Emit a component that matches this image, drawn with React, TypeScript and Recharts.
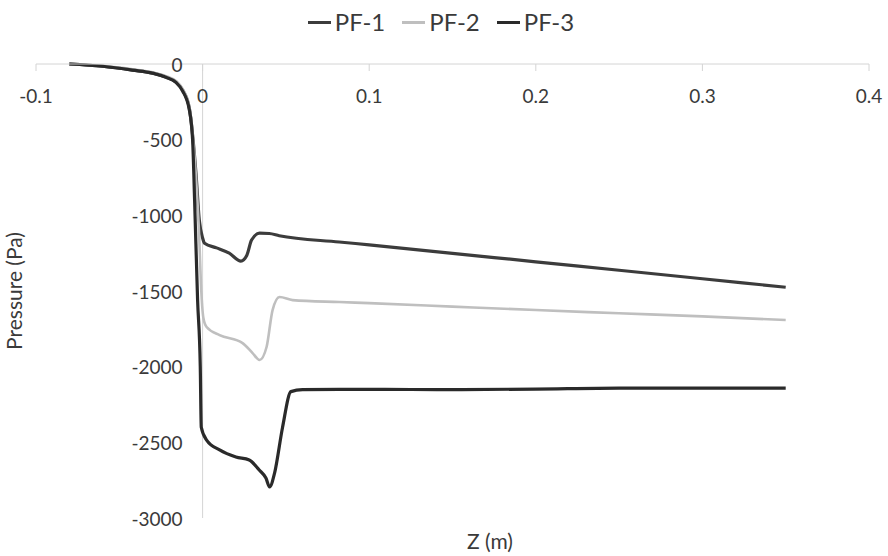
import React from 'react';
import { LineChart, Line, XAxis, YAxis, Legend, ReferenceLine } from 'recharts';

// [z (m), pressure (Pa)]
const pf1: [number, number][] = [
  [-0.08, 0], [-0.06, -15], [-0.042, -40], [-0.03, -60], [-0.022, -86], [-0.016, -119],
  [-0.012, -172], [-0.008, -290], [-0.006, -470], [-0.004, -720], [-0.002, -1030],
  [0, -1150], [0.0012, -1185], [0.0084, -1215], [0.016, -1250], [0.023, -1302],
  [0.0265, -1265], [0.0294, -1163], [0.0342, -1118], [0.04, -1120], [0.046, -1135],
  [0.082, -1176], [0.1, -1195], [0.15, -1251], [0.2, -1307], [0.25, -1363],
  [0.3, -1419], [0.35, -1475],
];

const pf2: [number, number][] = [
  [-0.08, 0], [-0.06, -12], [-0.042, -35], [-0.03, -55], [-0.022, -80], [-0.016, -112],
  [-0.012, -165], [-0.008, -280], [-0.006, -460], [-0.004, -740], [-0.002, -1150],
  [-0.001, -1450], [0.0005, -1680], [0.0024, -1738], [0.0102, -1791], [0.024, -1844],
  [0.03, -1910], [0.0342, -1956], [0.0384, -1870], [0.042, -1626], [0.0462, -1540],
  [0.054, -1560], [0.082, -1573], [0.1, -1580], [0.15, -1603], [0.2, -1626],
  [0.25, -1647], [0.3, -1668], [0.35, -1692],
];

const pf3: [number, number][] = [
  [-0.08, 0], [-0.06, -15], [-0.042, -40], [-0.03, -60], [-0.022, -88], [-0.016, -122],
  [-0.012, -178], [-0.008, -300], [-0.006, -500], [-0.0048, -900], [-0.003, -1560],
  [-0.0014, -2000], [-0.0008, -2400], [0.0024, -2485], [0.0102, -2550], [0.02, -2597],
  [0.028, -2617], [0.034, -2683], [0.038, -2736], [0.0402, -2795], [0.0432, -2703],
  [0.048, -2400], [0.053, -2165], [0.06, -2152], [0.082, -2150], [0.1, -2150],
  [0.15, -2152], [0.2, -2148], [0.25, -2142], [0.3, -2142], [0.35, -2142],
];

const xTicks = [-0.1, 0, 0.1, 0.2, 0.3, 0.4];
const yTicks = [0, -500, -1000, -1500, -2000, -2500, -3000];
const xDomain: [number, number] = [-0.1, 0.4];
const yDomain: [number, number] = [-3000, 0];

const toPoints = (rows: [number, number][]) => rows.map(([z, p]) => ({ z, p }));

const W = 888;
const H = 556;
const MARGIN = { top: 34, right: 19, bottom: 38, left: 0 };
const Y_AXIS_W = 36;
const PLOT_W = W - MARGIN.left - MARGIN.right - Y_AXIS_W;
// the value axis crosses the category axis at z = 0
const Y_AXIS_SHIFT = (PLOT_W * (0 - xDomain[0])) / (xDomain[1] - xDomain[0]);

const FONT = 'Lato, "Open Sans", sans-serif';
const TEXT = '#3a3a3a';
const AXIS = '#d4d4d4';

const XTick = ({ x, y, payload }: any) => (
  <g>
    <line x1={x} x2={x} y1={y} y2={y + 7} stroke={AXIS} />
    <text x={x} y={y + 31} textAnchor="middle" dominantBaseline="central"
      fontFamily={FONT} fontSize={19} fill={TEXT}>
      {payload.value}
    </text>
  </g>
);

const YTick = ({ x, y, payload }: any) => (
  <text x={x + Y_AXIS_SHIFT - 20} y={y} textAnchor="end" dominantBaseline="central"
    fontFamily={FONT} fontSize={19} fill={TEXT}>
    {payload.value}
  </text>
);

const renderLegend = ({ payload }: any) => (
  <div style={{ display: 'flex', justifyContent: 'center', gap: 17, paddingRight: 6, fontFamily: FONT, fontSize: 24, lineHeight: '28px', color: TEXT }}>
    {(payload || []).map((entry: any) => (
      <span key={entry.value} style={{ display: 'inline-flex', alignItems: 'center' }}>
        <span style={{ display: 'inline-block', width: 23, height: 3, background: entry.color, marginRight: 4 }} />
        {entry.value}
      </span>
    ))}
  </div>
);

export default function App() {
  return (
    <div style={{ position: 'absolute', left: 0, top: 0, width: W, height: H, background: '#fff' }}>
      <LineChart width={W} height={H} margin={MARGIN}>
        <XAxis
          dataKey="z"
          type="number"
          orientation="top"
          domain={xDomain}
          ticks={xTicks}
          allowDataOverflow
          height={30}
          axisLine={{ stroke: AXIS }}
          tickLine={false}
          tickSize={0}
          tickMargin={0}
          tick={<XTick />}
        />
        <YAxis
          type="number"
          domain={yDomain}
          ticks={yTicks}
          width={Y_AXIS_W}
          axisLine={false}
          tickLine={false}
          tickSize={0}
          tickMargin={0}
          tick={<YTick />}
          label={{ value: 'Pressure (Pa)', angle: -90, position: 'center', dx: -3, fontFamily: FONT, fontSize: 21, fill: TEXT }}
        />
        <ReferenceLine x={0} stroke={AXIS} />
        <Legend
          verticalAlign="middle"
          align="center"
          content={renderLegend}
          wrapperStyle={{ top: 8, left: 0, width: W }}
        />
        <Line data={toPoints(pf1)} dataKey="p" name="PF-1" type="monotone" stroke="#3c3c3c"
          strokeWidth={3.2} dot={false} isAnimationActive={false} />
        <Line data={toPoints(pf2)} dataKey="p" name="PF-2" type="monotone" stroke="#bfbfbf"
          strokeWidth={2.6} dot={false} isAnimationActive={false} />
        <Line data={toPoints(pf3)} dataKey="p" name="PF-3" type="monotone" stroke="#2a2a2a"
          strokeWidth={3.2} dot={false} isAnimationActive={false} />
      </LineChart>
      <div style={{ position: 'absolute', left: 440, width: 100, top: 528, textAlign: 'center', fontFamily: FONT, fontSize: 21, color: TEXT }}>
        Z (m)
      </div>
    </div>
  );
}
